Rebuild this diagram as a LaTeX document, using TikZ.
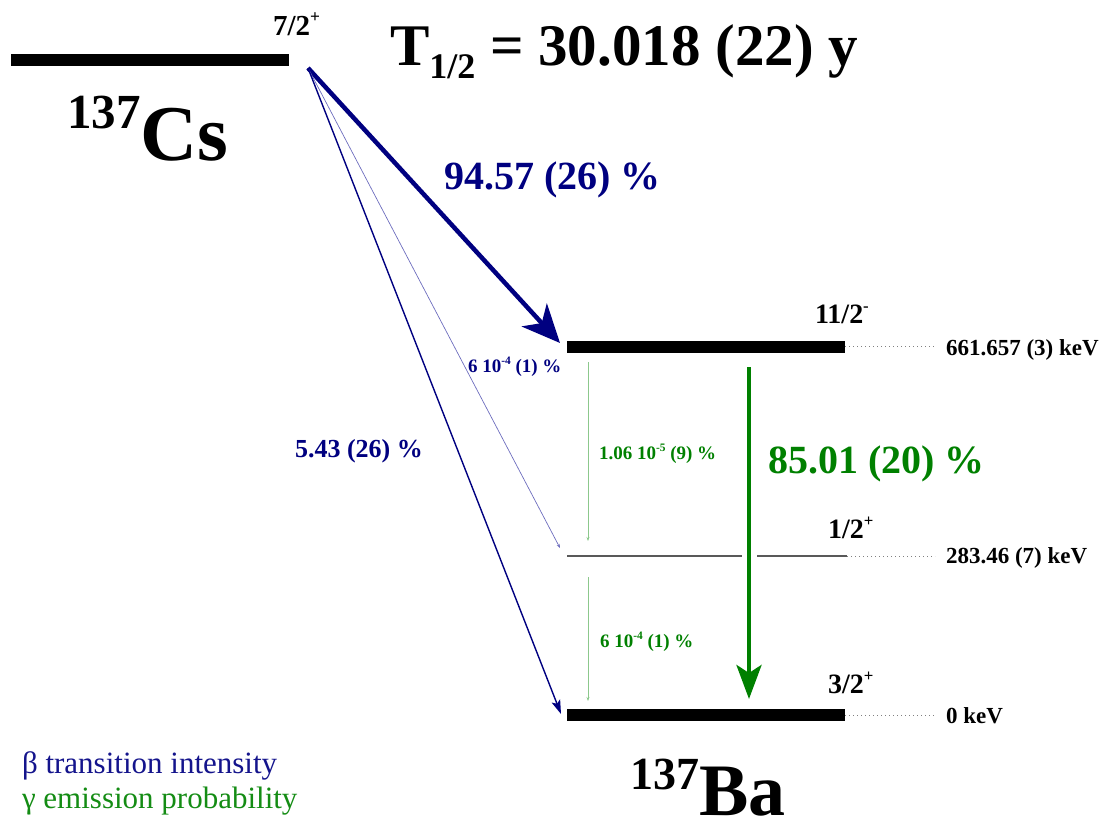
\documentclass[tikz,border=0pt]{standalone}
\usepackage{fontspec}
\setmainfont{Liberation Serif}
\usetikzlibrary{arrows.meta}
\definecolor{betac}{RGB}{0,0,128}
\definecolor{betalight}{RGB}{110,110,190}
\definecolor{legb}{RGB}{20,20,140}
\definecolor{gamc}{RGB}{0,128,0}
\definecolor{gamlight}{RGB}{140,200,140}
\definecolor{legg}{RGB}{20,140,20}
\newcommand{\fs}[1]{\fontsize{#1}{#1}\selectfont}
\newcommand{\sps}[1]{\raisebox{0.42em}{\fontsize{0.6em}{0.6em}\selectfont #1}}
\begin{document}
\begin{tikzpicture}[x=1pt,y=-1pt,
  every node/.style={inner sep=0pt,outer sep=0pt},
  lvl/.style={line width=12pt,black},
  midlvl/.style={line width=2.5pt,black!65},
  dotline/.style={gray,line width=0.8pt,dash pattern=on 0.8pt off 3.2pt},
  txt/.style={font=\bfseries\fs{#1}},
  lab/.style={anchor=base west}]
\useasboundingbox (0,0) rectangle (1109,828);

% levels
\coordinate (csL) at (11,59.5);
\coordinate (csR) at (289,59.5);
\coordinate (src) at (308,68);
\draw[lvl] (csL) -- (csR);

\coordinate (aL) at (567,346.5);
\coordinate (aR) at (845,346.5);
\coordinate (bL) at (567,556);
\coordinate (bR) at (847,556);
\coordinate (cL) at (567,715);
\coordinate (cR) at (845,715);
\coordinate (bG1) at (742,556);
\coordinate (bG2) at (757,556);
\draw[lvl] (aL) -- (aR);
\draw[lvl] (cL) -- (cR);
\draw[midlvl] (bL) -- (bG1);
\draw[midlvl] (bG2) -- (bR);

\coordinate (aD) at (935,346.5);
\coordinate (bD) at (935,556);
\coordinate (cD) at (935,715);
\draw[dotline] (aR) -- (aD);
\draw[dotline] (bR) -- (bD);
\draw[dotline] (cR) -- (cD);

% beta transitions
\coordinate (tA) at (560,343);
\coordinate (tB) at (560,548);
\coordinate (tC) at (561,714);
\draw[betac,line width=4.5pt,-{Stealth[length=38pt,width=34pt,inset=11pt]}] (src) -- (tA);
\draw[betalight,line width=0.7pt,-{Stealth[length=4pt,width=3pt]}] (src) -- (tB);
\draw[betac,line width=1.4pt,-{Stealth[length=14pt,width=9pt,inset=3pt]}] (src) -- (tC);

% gamma transitions
\coordinate (gS) at (749,367);
\coordinate (gE) at (749,699);
\draw[gamc,line width=4.5pt,-{Stealth[length=34pt,width=25pt,inset=8pt]}] (gS) -- (gE);
\coordinate (g1S) at (588,362);
\coordinate (g1E) at (588,541);
\coordinate (g2S) at (588,577);
\coordinate (g2E) at (588,701);
\draw[gamlight,line width=0.9pt,-{Stealth[length=4pt,width=3pt]}] (g1S) -- (g1E);
\draw[gamlight,line width=0.9pt,-{Stealth[length=4pt,width=3pt]}] (g2S) -- (g2E);

% texts
\node[txt=29,lab] (j0) at (273,35) {7/2\sps{+}};
\node[txt=59,lab] (thalf) at (390,65) {T\raisebox{-0.23em}{\fs{36}1/2} = 30.018 (22) y};
\node[txt=79,lab] (cs) at (67,160) {\raisebox{0.4em}{\fs{49}137}Cs};
\node[txt=40,lab,text=betac] (b1) at (444,189) {94.57 (26) \%};
\node[txt=19,lab,text=betac] (b2) at (468,372) {6 10\sps{-4} (1) \%};
\node[txt=26,lab,text=betac] (b3) at (295,457) {5.43 (26) \%};

\node[txt=40,lab,text=gamc] (g0) at (768,473) {85.01 (20) \%};
\node[txt=19,lab,text=gamc] (g1) at (599,459) {1.06 10\sps{-5} (9) \%};
\node[txt=19,lab,text=gamc] (g2) at (600,647) {6 10\sps{-4} (1) \%};

\node[txt=28,lab] (ja) at (815,323) {11/2\sps{-}};
\node[txt=28,lab] (jb) at (828,538) {1/2\sps{+}};
\node[txt=28,lab] (jc) at (828,693) {3/2\sps{+}};

\node[txt=23,lab] (ea) at (946,355) {661.657 (3) keV};
\node[txt=23,lab] (eb) at (946,563) {283.46 (7) keV};
\node[txt=23,lab] (ec) at (946,723) {0 keV};

\node[txt=74,lab,text depth=0pt] (ba) at (630,815) {\raisebox{0.35em}{\fs{46}137}Ba};

\node[font=\fs{31},lab,text=legb] (leg1) at (22,773) {β transition intensity};
\node[font=\fs{31},lab,text=legg] (leg2) at (22,808) {γ emission probability};
\end{tikzpicture}
\end{document}
